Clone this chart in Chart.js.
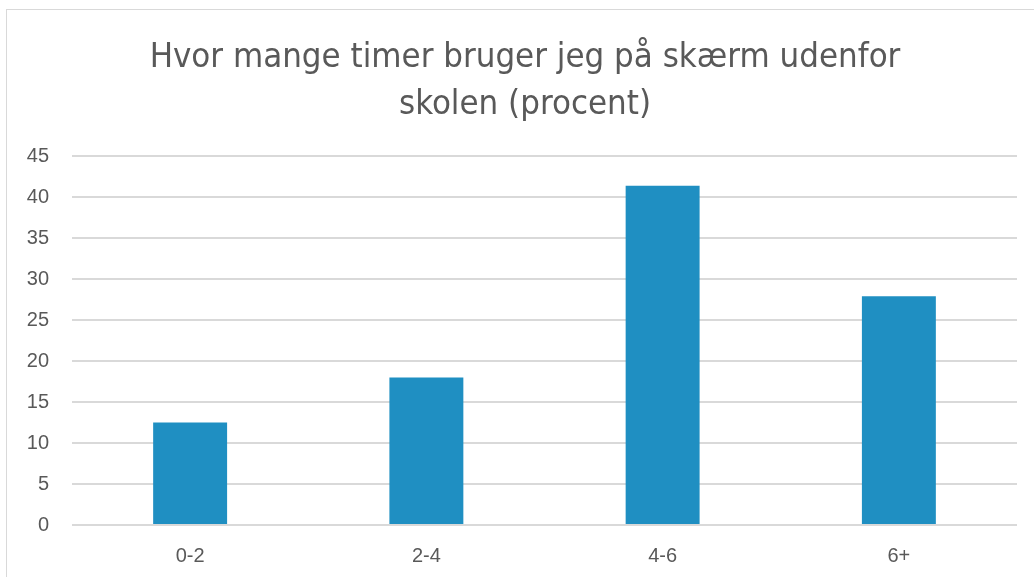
<!DOCTYPE html>
<html>
<head>
<meta charset="utf-8">
<script src="https://cdn.jsdelivr.net/npm/chart.js@4/dist/chart.umd.min.js"></script>
<style>
  html, body { margin: 0; padding: 0; background: #ffffff; }
  body { width: 1034px; height: 577px; position: relative; overflow: hidden; }
  #frame { position: absolute; left: 6px; top: 9px; width: 1040px; height: 600px; border: 1px solid #d9d9d9; box-sizing: border-box; }
  #wrap { position: absolute; left: 0; top: 0; width: 1034px; height: 577px; }
</style>
</head>
<body>
<div id="frame"></div>
<div id="wrap"><canvas id="c" width="1034" height="577"></canvas></div>
<script>
const titleLines = ["Hvor mange timer bruger jeg på skærm udenfor", "skolen (procent)"];
const categories = ["0-2", "2-4", "4-6", "6+"];
const values = [12.5, 18.0, 41.4, 27.9];
const yTicks = [0, 5, 10, 15, 20, 25, 30, 35, 40, 45];

const centerTitle = {
  id: 'centerTitle',
  afterLayout(chart) {
    const t = chart.titleBlock;
    if (t) { t.left = 16; t.right = 1034; t.width = 1018; }
  }
};

new Chart(document.getElementById('c'), {
  type: 'bar',
  data: {
    labels: categories,
    datasets: [{
      data: values,
      backgroundColor: '#1F8FC2',
      borderWidth: 0,
      categoryPercentage: 1.0,
      barPercentage: 0.313
    }]
  },
  plugins: [centerTitle],
  options: {
    responsive: false,
    animation: false,
    layout: { padding: { left: 0, right: 17, top: 0, bottom: 0 } },
    plugins: {
      legend: { display: false },
      tooltip: { enabled: false },
      title: {
        display: true,
        text: titleLines,
        color: '#595959',
        font: { family: "'Liberation Sans Narrow', 'DejaVu Sans Condensed', sans-serif", size: 34.5, weight: 'normal', lineHeight: 1.35 },
        padding: { top: 35, bottom: 28 }
      }
    },
    scales: {
      x: {
        afterFit: (axis) => { axis.height = 52; },
        grid: { display: false, drawTicks: false },
        border: { display: false },
        ticks: { color: '#595959', font: { family: "'Liberation Sans', sans-serif", size: 20 }, padding: 19 }
      },
      y: {
        min: 0, max: 45,
        afterBuildTicks: (axis) => { axis.ticks = yTicks.map(v => ({ value: v })); },
        afterFit: (axis) => { axis.width = 72; },
        grid: { color: '#d9d9d9', lineWidth: 2, drawTicks: false },
        border: { display: false },
        ticks: { color: '#595959', font: { family: "'Liberation Sans', sans-serif", size: 20 }, padding: 23 }
      }
    }
  }
});
</script>
</body>
</html>
